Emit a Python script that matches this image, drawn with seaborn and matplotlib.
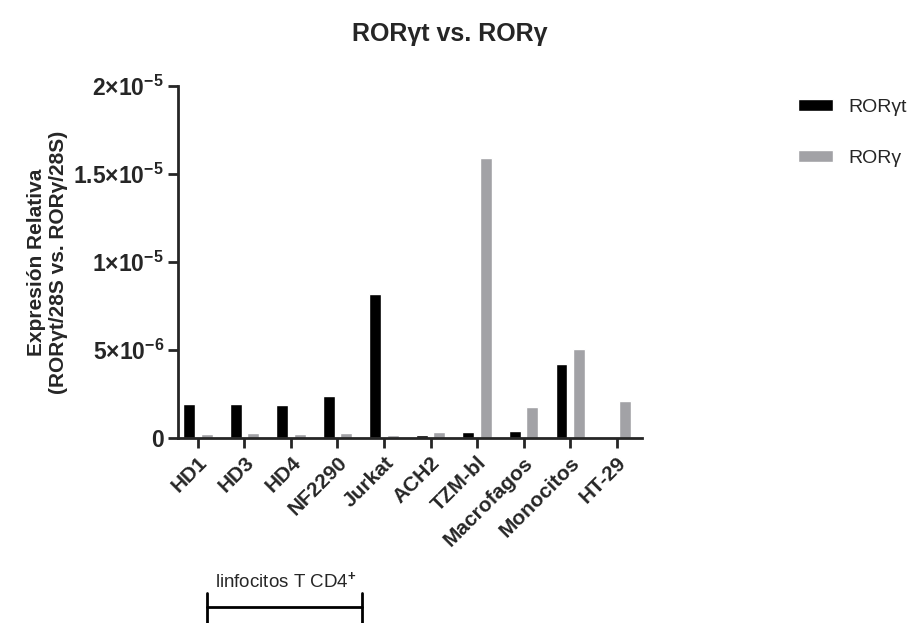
import matplotlib
matplotlib.use("Agg")
import matplotlib.pyplot as plt
import seaborn as sns
import pandas as pd

# datos
muestras = ["HD1", "HD3", "HD4", "NF2290", "Jurkat", "ACH2", "TZM-bl",
            "Macrofagos", "Monocitos", "HT-29"]
ror_gt = [1.93e-6, 1.93e-6, 1.88e-6, 2.4e-6, 8.2e-6, 0.17e-6, 0.34e-6,
          0.38e-6, 4.2e-6, 0.0]
ror_g = [0.22e-6, 0.27e-6, 0.23e-6, 0.3e-6, 0.17e-6, 0.34e-6, 15.9e-6,
         1.77e-6, 5.05e-6, 2.1e-6]
series = ["RORγt", "RORγ"]
yticks = [0, 5e-6, 1e-5, 1.5e-5, 2e-5]
ytick_labels = ["0", r"$5{\times}10^{-6}$", r"$1{\times}10^{-5}$",
                r"$1.5{\times}10^{-5}$", r"$2{\times}10^{-5}$"]

df = pd.DataFrame({
    "Muestra": muestras * 2,
    "Valor": ror_gt + ror_g,
    "Serie": [series[0]] * len(muestras) + [series[1]] * len(muestras),
})

sns.set_style("ticks")
plt.rcParams["font.family"] = ["Liberation Sans", "DejaVu Sans"]
plt.rcParams["mathtext.fontset"] = "custom"
plt.rcParams["mathtext.rm"] = "Liberation Sans:bold"
plt.rcParams["mathtext.bf"] = "Liberation Sans:bold"
plt.rcParams["mathtext.it"] = "Liberation Sans:bold"

fig = plt.figure(figsize=(9.22, 6.23), dpi=100)
ax = fig.add_axes([0.193, 0.297, 0.503, 0.565])

sns.barplot(data=df, x="Muestra", y="Valor", hue="Serie", ax=ax,
            palette=["#000000", "#a2a2a6"], width=0.75, gap=0.33,
            saturation=1, errorbar=None)

ax.set_xlim(-0.43, 9.54)
ax.set_ylim(0, 2e-5)
ax.set_yticks(yticks)
ax.set_yticklabels(ytick_labels, fontsize=16.5, fontweight="bold")
plt.xticks(rotation=45, ha="right", rotation_mode="anchor",
           fontsize=15, fontweight="bold")
ax.tick_params(axis="x", length=7, width=2, pad=4)
ax.tick_params(axis="y", length=7, width=2, pad=3)
for s in ["left", "bottom"]:
    ax.spines[s].set_linewidth(2)
sns.despine(ax=ax)

ax.set_xlabel("")
ax.set_ylabel("Expresión Relativa\n(RORγt/28S vs. RORγ/28S)",
              fontsize=15, fontweight="bold", labelpad=4)
fig.text(0.488, 0.945, "RORγt vs. RORγ", ha="center", va="center",
         fontsize=18, fontweight="bold")

leg = ax.legend(bbox_to_anchor=(1.32, 0.985), loc="upper left", frameon=False,
                fontsize=14, handlelength=1.8, handleheight=0.6,
                labelspacing=1.75, borderaxespad=0)

# corchete de linfocitos T CD4+
fig.text(0.31, 0.067, "linfocitos T CD4$^{+}$", ha="center", va="center",
         fontsize=13.5)
fig.add_artist(plt.Line2D([0.225, 0.393], [0.026, 0.026], color="black", lw=2))
fig.add_artist(plt.Line2D([0.225, 0.225], [0.0, 0.048], color="black", lw=2))
fig.add_artist(plt.Line2D([0.393, 0.393], [0.0, 0.048], color="black", lw=2))

plt.savefig("out.png", dpi=100)
